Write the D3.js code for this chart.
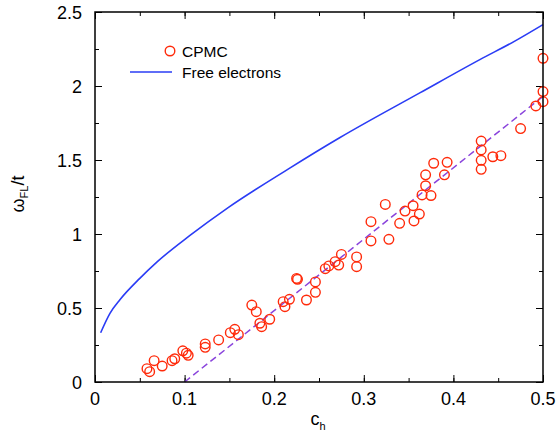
<!DOCTYPE html>
<html>
<head>
<meta charset="utf-8">
<script src="https://cdn.jsdelivr.net/npm/d3@7"></script>
<style>
body { margin: 0; background: #fff; }
text { font-family: "Liberation Sans", Arial, sans-serif; fill: #000; }
</style>
</head>
<body>
<div id="c"></div>
<script>
// CPMC points: hole concentration c_h and omega_FL/t
var cpmc_c = [0.058, 0.061, 0.066, 0.075, 0.086, 0.089, 0.098, 0.102, 0.104, 0.123, 0.123, 0.138,
	0.151, 0.156, 0.160, 0.175, 0.180, 0.184, 0.186, 0.195, 0.210, 0.212, 0.217, 0.225, 0.226,
	0.236, 0.246, 0.246, 0.257, 0.261, 0.268, 0.272, 0.275, 0.292, 0.292, 0.308, 0.308, 0.324,
	0.328, 0.340, 0.346, 0.355, 0.356, 0.362, 0.365, 0.369, 0.369, 0.375, 0.378, 0.390, 0.393,
	0.431, 0.431, 0.431, 0.431, 0.444, 0.453, 0.475, 0.492, 0.500, 0.500, 0.500];
var cpmc_w = [0.090, 0.070, 0.144, 0.108, 0.144, 0.157, 0.211, 0.195, 0.180, 0.257, 0.234, 0.284,
	0.333, 0.356, 0.320, 0.520, 0.475, 0.397, 0.374, 0.424, 0.543, 0.509, 0.559, 0.700, 0.694,
	0.554, 0.676, 0.606, 0.766, 0.784, 0.813, 0.790, 0.862, 0.845, 0.779, 0.953, 1.083, 1.200,
	0.964, 1.072, 1.155, 1.191, 1.088, 1.135, 1.264, 1.326, 1.400, 1.260, 1.478, 1.400, 1.484,
	1.628, 1.568, 1.498, 1.437, 1.522, 1.529, 1.712, 1.865, 2.187, 1.962, 1.894];

// free electron curve
var free_c = [0.0063, 0.0167, 0.028, 0.05, 0.069, 0.106, 0.149, 0.216, 0.273, 0.363, 0.43, 0.469, 0.5];
var free_w = [0.333, 0.464, 0.557, 0.70, 0.81, 0.99, 1.18, 1.44, 1.65, 1.955, 2.18, 2.305, 2.415];

// linear fit (dashed)
var fit_c = [0.1, 0.5];
var fit_w = [0, 1.93];

var x_ticks = [0, 0.1, 0.2, 0.3, 0.4, 0.5];
var y_ticks = [0, 0.5, 1, 1.5, 2, 2.5];

var width = 558;
var height = 436;
var p_left = 95, p_right = 543, p_top = 12, p_bottom = 382;

var svg = d3.select("#c").append("svg")
	.attr("width", width)
	.attr("height", height);

var x_scale = d3.scaleLinear().domain([0, 0.5]).range([p_left, p_right]);
var y_scale = d3.scaleLinear().domain([0, 2.5]).range([p_bottom, p_top]);

// ticks on all four sides, pointing inward
var minor_x = d3.range(0, 0.5001, 0.05);
var minor_y = d3.range(0, 2.5001, 0.25);

function tick_axis(axis, scale, vals, len, tr) {
	svg.append("g")
		.attr("transform", tr)
		.call(axis(scale).tickValues(vals).tickSize(len).tickFormat(""))
		.call(function(g) { g.select(".domain").remove(); })
		.selectAll("line").attr("stroke", "#000").attr("stroke-width", 1);
}
tick_axis(d3.axisTop, x_scale, minor_x, 4, "translate(0," + p_bottom + ")");
tick_axis(d3.axisTop, x_scale, x_ticks, 7, "translate(0," + p_bottom + ")");
tick_axis(d3.axisBottom, x_scale, minor_x, 4, "translate(0," + p_top + ")");
tick_axis(d3.axisBottom, x_scale, x_ticks, 7, "translate(0," + p_top + ")");
tick_axis(d3.axisRight, y_scale, minor_y, 4, "translate(" + p_left + ",0)");
tick_axis(d3.axisRight, y_scale, y_ticks, 7, "translate(" + p_left + ",0)");
tick_axis(d3.axisLeft, y_scale, minor_y, 4, "translate(" + p_right + ",0)");
tick_axis(d3.axisLeft, y_scale, y_ticks, 7, "translate(" + p_right + ",0)");

// tick labels
svg.append("g").selectAll("text")
	.data(x_ticks).enter().append("text")
	.attr("x", function(d) { return x_scale(d); })
	.attr("y", 405)
	.attr("text-anchor", "middle")
	.attr("font-size", 18)
	.text(function(d) { return d3.format("")(d); });

svg.append("g").selectAll("text")
	.data(y_ticks).enter().append("text")
	.attr("x", 82)
	.attr("y", function(d) { return y_scale(d) + 6.5; })
	.attr("text-anchor", "end")
	.attr("font-size", 18)
	.text(function(d) { return d3.format("")(d); });

// axis titles
var xl = svg.append("text")
	.attr("x", 318)
	.attr("y", 425)
	.attr("text-anchor", "middle")
	.attr("font-size", 18);
xl.append("tspan").text("c");
xl.append("tspan").attr("font-size", 11).attr("dy", 5).text("h");

var yl = svg.append("text")
	.attr("transform", "translate(24,194) rotate(-90)")
	.attr("text-anchor", "middle")
	.attr("font-size", 18);
yl.append("tspan").text("ω");
yl.append("tspan").attr("font-size", 11).attr("dy", 4).text("FL");
yl.append("tspan").attr("dy", -4).text("/t");

// curves
var line = d3.line()
	.x(function(d) { return x_scale(d[0]); })
	.y(function(d) { return y_scale(d[1]); });

svg.append("path")
	.attr("d", line.curve(d3.curveMonotoneX)(d3.zip(free_c, free_w)))
	.attr("fill", "none")
	.attr("stroke", "#2a3cf5")
	.attr("stroke-width", 1.6);

svg.append("path")
	.attr("d", line.curve(d3.curveLinear)(d3.zip(fit_c, fit_w)))
	.attr("fill", "none")
	.attr("stroke", "#8a44dc")
	.attr("stroke-width", 1.5)
	.attr("stroke-dasharray", "7,4");

svg.append("g").selectAll("circle")
	.data(d3.zip(cpmc_c, cpmc_w)).enter().append("circle")
	.attr("cx", function(d) { return x_scale(d[0]); })
	.attr("cy", function(d) { return y_scale(d[1]); })
	.attr("r", 4.8)
	.attr("fill", "none")
	.attr("stroke", "#ff2a0a")
	.attr("stroke-width", 1.4);

// frame
svg.append("rect")
	.attr("x", p_left).attr("y", p_top)
	.attr("width", p_right - p_left).attr("height", p_bottom - p_top)
	.attr("fill", "none")
	.attr("stroke", "#000")
	.attr("stroke-width", 1.5);

// legend
svg.append("circle")
	.attr("cx", 170).attr("cy", 51).attr("r", 4.8)
	.attr("fill", "none").attr("stroke", "#ff2a0a").attr("stroke-width", 1.4);
svg.append("text")
	.attr("x", 182).attr("y", 56.5)
	.attr("font-size", 15.5)
	.text("CPMC");
svg.append("line")
	.attr("x1", 130).attr("x2", 172).attr("y1", 72).attr("y2", 72)
	.attr("stroke", "#2a3cf5").attr("stroke-width", 1.6);
svg.append("text")
	.attr("x", 182).attr("y", 77.5)
	.attr("font-size", 15.5)
	.text("Free electrons");
</script>
</body>
</html>
